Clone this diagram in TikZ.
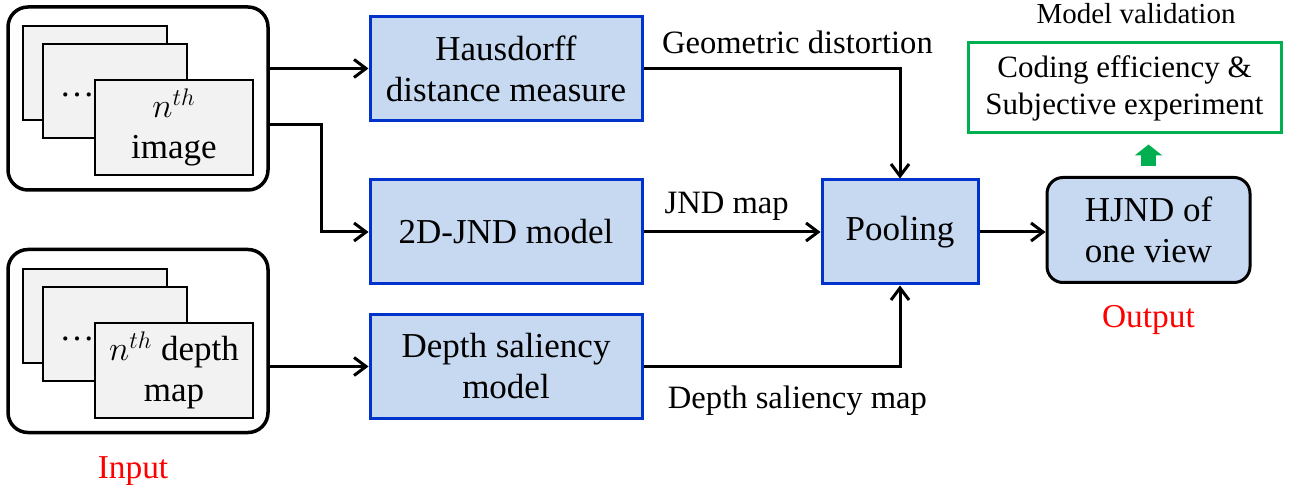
\documentclass[tikz,border=0pt]{standalone}
\usepackage{fontspec}
\setmainfont{Liberation Serif}
\usetikzlibrary{arrows.meta, positioning}

\definecolor{boxblue}{RGB}{198,217,241}
\definecolor{edgeblue}{RGB}{0,51,204}
\definecolor{valgreen}{RGB}{0,176,80}
\definecolor{framegray}{RGB}{242,242,242}

\tikzset{
  block/.style={draw=edgeblue, line width=1.5pt, fill=boxblue, minimum width=136pt, minimum height=52pt, align=center},
  inbox/.style={draw, line width=1.75pt, rounded corners=10pt, minimum width=130pt, minimum height=91.5pt},
  sheet/.style={draw, line width=1pt, fill=framegray, minimum width=72pt, minimum height=47pt, align=center},
  flowlabel/.style={font=\fontsize{16.3}{19}\selectfont},
  tag/.style={red, font=\fontsize{16.7}{19}\selectfont},
}

\begin{document}
\begin{tikzpicture}[x=0.5pt, y=-0.5pt, every node/.style={font=\fontsize{17.5}{20.5}\selectfont, inner sep=0pt}, >={Straight Barb[length=6pt, width=9pt]}, line width=1.5pt]
    \useasboundingbox (0,0) rectangle (1293,485);

    % input: image stack
    \node[inbox] (img) at (138,98.5) {};
    \node[sheet] (imgback) at (95,73) {};
    \node[sheet] (imgmid) at (115,91) {};
    \node[sheet, minimum width=79pt, minimum height=47.5pt] (imgfront) at (174,127.5) {$n^{th}$\\image};
    \node (imgdots) at (77,95) {\dots};

    % input: depth stack
    \node[inbox] (depth) at (138,341) {};
    \node[sheet] (depthback) at (95,316.5) {};
    \node[sheet] (depthmid) at (115,334) {};
    \node[sheet, minimum width=79pt, minimum height=47.5pt] (depthfront) at (174,370.5) {$n^{th}$ depth\\map};
    \node (depthdots) at (77,339) {\dots};
    \node[tag, below=10.5pt of depth, xshift=-2.5pt] (input) {Input};

    % processing
    \node[block] (haus) at (506,68.5) {Hausdorff\\distance measure};
    \node[block] (jnd) at (506,232) {2D-JND model};
    \node[block] (sal) at (506,366.5) {Depth saliency\\model};
    \node[block, minimum width=78pt] (pool) at (900,232) {Pooling};

    % output
    \node[draw, line width=1.5pt, rounded corners=8pt, fill=boxblue, minimum width=101.5pt, minimum height=52.5pt, align=center] (hjnd) at (1148.5,230) {HJND of\\one view};
    \node[tag, below=10pt of hjnd] (output) {Output};
    \node[draw=valgreen, line width=1.5pt, minimum width=156.5pt, minimum height=45pt, align=center, font=\fontsize{15.5}{18.5}\selectfont] (valid) at (1124.5,88) {Coding efficiency \&\\Subjective experiment};
    \node[font=\fontsize{14.5}{17}\selectfont, above=8pt of valid, xshift=5.75pt] (validtitle) {Model validation};

    \draw[->] (img.east |- haus.west) -- (haus.west);
    \draw[->] ([yshift=-13.25pt]img.east) -- ++(52,0) |- (jnd.west);
    \draw[->] (depth.east |- sal.west) -- (sal.west);
    \draw[->] (haus.east) -| node[flowlabel, pos=0.3, above=6.5pt] {Geometric distortion} (pool.north);
    \draw[->] (jnd.east) -- node[flowlabel, pos=0.47, above=5pt] {JND map} (pool.west);
    \draw[->] (sal.east) -| node[flowlabel, pos=0.3, below=9pt] {Depth saliency map} (pool.south);
    \draw[->] (pool.east) -- (pool.east -| hjnd.west);
    \draw[-{Triangle[length=5.5pt, width=13.5pt]}, valgreen, line width=7.5pt, shorten <=5pt, shorten >=5pt] (hjnd.north) -- (hjnd.north |- valid.south);
\end{tikzpicture}
\end{document}
